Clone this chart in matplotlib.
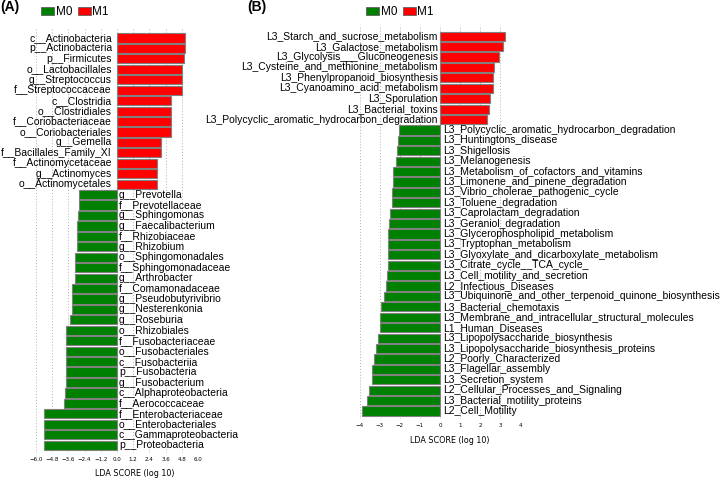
import matplotlib
matplotlib.use('Agg')
import matplotlib.pyplot as plt
from matplotlib.patches import Patch
import numpy as np

# ---------------- data ----------------
a_labels = [
    "c__Actinobacteria", "p__Actinobacteria", "p__Firmicutes", "o__Lactobacillales",
    "g__Streptococcus", "f__Streptococcaceae", "c__Clostridia", "o__Clostridiales",
    "f__Coriobacteriaceae", "o__Coriobacteriales", "g__Gemella", "f__Bacillales_Family_XI",
    "f__Actinomycetaceae", "g__Actinomyces", "o__Actinomycetales",
    "g__Prevotella", "f__Prevotellaceae", "g__Sphingomonas", "g__Faecalibacterium",
    "f__Rhizobiaceae", "g__Rhizobium", "o__Sphingomonadales", "f__Sphingomonadaceae",
    "g__Arthrobacter", "f__Comamonadaceae", "g__Pseudobutyrivibrio", "g__Nesterenkonia",
    "g__Roseburia", "o__Rhizobiales", "f__Fusobacteriaceae", "o__Fusobacteriales",
    "c__Fusobacteriia", "p__Fusobacteria", "g__Fusobacterium", "c__Alphaproteobacteria",
    "f__Aerococcaceae", "f__Enterobacteriaceae", "o__Enterobacteriales",
    "c__Gammaproteobacteria", "p__Proteobacteria",
]
a_scores = [
    5.01, 5.00, 4.94, 4.85, 4.83, 4.83, 4.03, 4.03, 3.98, 3.98, 3.24, 3.24,
    2.99, 2.99, 2.99,
    -2.84, -2.84, -2.91, -2.93, -2.99, -2.99, -3.11, -3.11, -3.11, -3.30,
    -3.36, -3.36, -3.45, -3.75, -3.80, -3.80, -3.80, -3.80, -3.80, -3.82,
    -3.93, -5.43, -5.43, -5.43, -5.43,
]
a_ticks = [-6.0, -4.8, -3.6, -2.4, -1.2, 0.0, 1.2, 2.4, 3.6, 4.8, 6.0]

b_labels = [
    "L3_Starch_and_sucrose_metabolism", "L3_Galactose_metabolism",
    "L3_Glycolysis___Gluconeogenesis", "L3_Cysteine_and_methionine_metabolism",
    "L3_Phenylpropanoid_biosynthesis", "L3_Cyanoamino_acid_metabolism",
    "L3_Sporulation", "L3_Bacterial_toxins",
    "L3_Polycyclic_aromatic_hydrocarbon_degradation",
    "L3_Polycyclic_aromatic_hydrocarbon_degradation", "L3_Huntingtons_disease",
    "L3_Shigellosis", "L3_Melanogenesis", "L3_Metabolism_of_cofactors_and_vitamins",
    "L3_Limonene_and_pinene_degradation", "L3_Vibrio_cholerae_pathogenic_cycle",
    "L3_Toluene_degradation", "L3_Caprolactam_degradation", "L3_Geraniol_degradation",
    "L3_Glycerophospholipid_metabolism", "L3_Tryptophan_metabolism",
    "L3_Glyoxylate_and_dicarboxylate_metabolism", "L3_Citrate_cycle__TCA_cycle_",
    "L3_Cell_motility_and_secretion", "L2_Infectious_Diseases",
    "L3_Ubiquinone_and_other_terpenoid_quinone_biosynthesis", "L3_Bacterial_chemotaxis",
    "L3_Membrane_and_intracellular_structural_molecules", "L1_Human_Diseases",
    "L3_Lipopolysaccharide_biosynthesis", "L3_Lipopolysaccharide_biosynthesis_proteins",
    "L2_Poorly_Characterized", "L3_Flagellar_assembly", "L3_Secretion_system",
    "L2_Cellular_Processes_and_Signaling", "L3_Bacterial_motility_proteins",
    "L2_Cell_Motility",
]
b_scores = [
    3.25, 3.15, 2.97, 2.68, 2.67, 2.67, 2.52, 2.47, 2.33,
    -2.03, -2.12, -2.17, -2.20, -2.33, -2.33, -2.38, -2.42, -2.48, -2.55,
    -2.58, -2.58, -2.60, -2.60, -2.65, -2.72, -2.78, -2.96, -3.00, -3.02,
    -3.08, -3.18, -3.28, -3.40, -3.42, -3.53, -3.63, -3.88,
]
b_ticks = [-4, -3, -2, -1, 0, 1, 2, 3, 4]

series_names = ["M0", "M1"]
colors = {"M0": "#008000", "M1": "#ff0000"}

# ---------------- figure ----------------
W, H = 720, 478
fig = plt.figure(figsize=(W / 100, H / 100), dpi=100)
LAB_FONT = "Liberation Sans"


def px_axes(l, r, t, b):
    return fig.add_axes([l / W, 1 - b / H, (r - l) / W, (b - t) / H])


def draw_panel(ax, labels, scores, ticks, xlim, ylim, fmt, neg_off, pos_off):
    n = len(labels)
    y = np.arange(n)
    cols = [colors["M1"] if s > 0 else colors["M0"] for s in scores]
    ax.barh(y, scores, height=0.88, color=cols, edgecolor="#808080", linewidth=0.8, zorder=2)
    for yi, lab, s in zip(y, labels, scores):
        if s > 0:
            ax.annotate(lab, xy=(0, yi), xytext=(neg_off, 0), textcoords="offset points",
                        ha="right", va="center", fontsize=7.5, family=LAB_FONT, zorder=3)
        else:
            ax.annotate(lab, xy=(0, yi), xytext=(pos_off, 0), textcoords="offset points",
                        ha="left", va="center", fontsize=7.5, family=LAB_FONT, zorder=3,
                        annotation_clip=False)
    ax.set_xlim(*xlim)
    ax.set_ylim(*ylim)
    ax.set_yticks([])
    ax.set_xticks(ticks)
    ax.set_xticklabels([fmt(t).replace("-", "\u2212") for t in ticks],
                       fontsize=4, family="DejaVu Sans")
    ax.tick_params(axis="x", length=0, pad=2.8)
    ax.grid(axis="x", linestyle=(0, (1, 2)), color="#b0b0b0", linewidth=0.7, zorder=0)
    for sp in ax.spines.values():
        sp.set_visible(False)
    ax.set_facecolor("none")


axA = px_axes(36, 198, 28, 453)
draw_panel(axA, a_labels, a_scores, a_ticks, (-6, 6), (39.75, -0.96),
           lambda t: f"{t:.1f}" if abs(t) > 1e-9 else "0.0", -3.6, 1.4)

axB = px_axes(360, 520, 25, 419)
draw_panel(axB, b_labels, b_scores, b_ticks, (-4, 4), (36.77, -1.08),
           lambda t: f"{t:d}", -1.5, 1.9)

# x labels
fig.text(134.7 / W, 1 - 473 / H, "LDA SCORE (log 10)", ha="center", va="center",
         fontsize=5.8, family="DejaVu Sans")
fig.text(449.8 / W, 1 - 440.5 / H, "LDA SCORE (log 10)", ha="center", va="center",
         fontsize=5.8, family="DejaVu Sans")

# panel labels
fig.text(0 / W, 1 - 7 / H, "(A)", ha="left", va="center", fontsize=10,
         fontweight="bold", family=LAB_FONT)
fig.text(247 / W, 1 - 7 / H, "(B)", ha="left", va="center", fontsize=10,
         fontweight="bold", family=LAB_FONT)

# legends
handles = [Patch(facecolor=colors[s], edgecolor="#606060", linewidth=0.6) for s in series_names]
for cx in (75, 400):
    fig.legend(handles, series_names, loc="center", bbox_to_anchor=(cx / W, 1 - 12 / H),
               ncol=2, frameon=False, handlelength=1.1, handleheight=0.6,
               handletextpad=0.1, columnspacing=0.5, borderpad=0.1,
               prop={"family": LAB_FONT, "size": 8.5})

fig.savefig("out.png", dpi=100)
